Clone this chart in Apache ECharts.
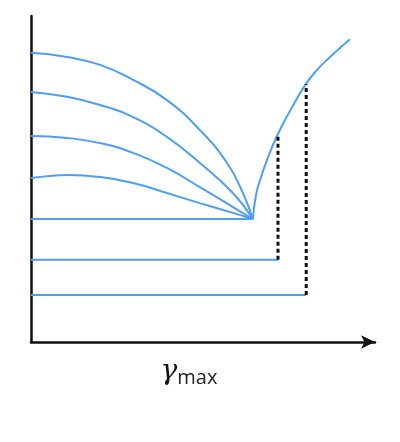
<!DOCTYPE html>
<html>
<head>
<meta charset="utf-8">
<script src="https://cdn.jsdelivr.net/npm/echarts@6/dist/echarts.min.js"></script>
<style>
  html, body { margin: 0; padding: 0; background: #fff; }
  #chart { width: 400px; height: 442px; }
</style>
</head>
<body>
<div id="chart"></div>
<script>
// curves converging at the critical point (x, y in axis units 0..100)
var curve1 = [[0, 88.7], [10.5, 87.4], [20.1, 85], [29.7, 80.4], [39.5, 74.2], [49.1, 65], [57, 54.9], [61.6, 45.7], [64.5, 37.7]];
var curve2 = [[0, 76.7], [10.5, 75.2], [20.1, 72.7], [29.7, 69], [39.5, 62.9], [49.1, 54.9], [58.7, 45.7], [64.5, 37.7]];
var curve3 = [[0, 63.2], [10.5, 62.6], [20.1, 61], [29.7, 58], [39.5, 53.4], [49.1, 47.5], [58.7, 41.4], [64.5, 37.7]];
var curve4 = [[0, 50.3], [5.5, 50.9], [10.5, 51.2], [20.1, 50.6], [29.7, 48.8], [39.5, 45.7], [49.1, 42.6], [58.7, 39.6], [64.5, 37.7]];
var flat0 = [[0, 37.7], [64.5, 37.7]];
var rising = [[64.5, 37.7], [65.4, 45.1], [66.6, 49.7], [68.6, 55.8], [71.5, 63.2], [75.3, 70.9], [79.7, 78.8], [83.1, 83.4], [86.9, 87.4], [92.7, 92.9]];
var flat1 = [[0, 25.2], [71.8, 25.2]];
var flat2 = [[0, 14.4], [80, 14.4]];
var drop1 = [[71.8, 25.2], [71.8, 63.8]];
var drop2 = [[80, 14.4], [80, 79.1]];

var blue = '#4d9ff5';

function blueLine(data, smooth) {
  return {
    type: 'line',
    data: data,
    smooth: smooth,
    showSymbol: false,
    lineStyle: { color: blue, width: 2 },
    silent: true
  };
}
function dashLine(data) {
  return {
    type: 'line',
    data: data,
    showSymbol: false,
    lineStyle: { color: '#111', width: 3, type: [4, 3] },
    silent: true
  };
}

var chart = echarts.init(document.getElementById('chart'));
var option = {
  animation: false,
  grid: { left: 31, top: 16, width: 344, height: 326 },
  xAxis: {
    type: 'value',
    min: 0,
    max: 100,
    name: '{g|γ}{s|max}',
    nameLocation: 'middle',
    nameGap: 14,
    nameTextStyle: {
      padding: [0, 28, 0, 0],
      rich: {
        g: { fontFamily: 'DejaVu Serif', fontStyle: 'italic', fontSize: 28, color: '#111' },
        s: { fontFamily: 'Open Sans', fontSize: 20, color: '#222', padding: [12, 0, 0, 0] }
      }
    },
    axisLine: {
      onZero: false,
      symbol: ['none', 'arrow'],
      symbolSize: [10, 14],
      lineStyle: { color: '#111', width: 2.5 }
    },
    axisTick: { show: false },
    axisLabel: { show: false },
    splitLine: { show: false }
  },
  yAxis: {
    type: 'value',
    min: 0,
    max: 100,
    axisLine: { show: true, onZero: false, lineStyle: { color: '#111', width: 2.5 } },
    axisTick: { show: false },
    axisLabel: { show: false },
    splitLine: { show: false }
  },
  series: [
    blueLine(curve1, 0.5),
    blueLine(curve2, 0.5),
    blueLine(curve3, 0.5),
    blueLine(curve4, 0.5),
    blueLine(flat0, false),
    blueLine(rising, 0.5),
    blueLine(flat1, false),
    blueLine(flat2, false),
    dashLine(drop1),
    dashLine(drop2)
  ]
};
chart.setOption(option);
</script>
</body>
</html>
